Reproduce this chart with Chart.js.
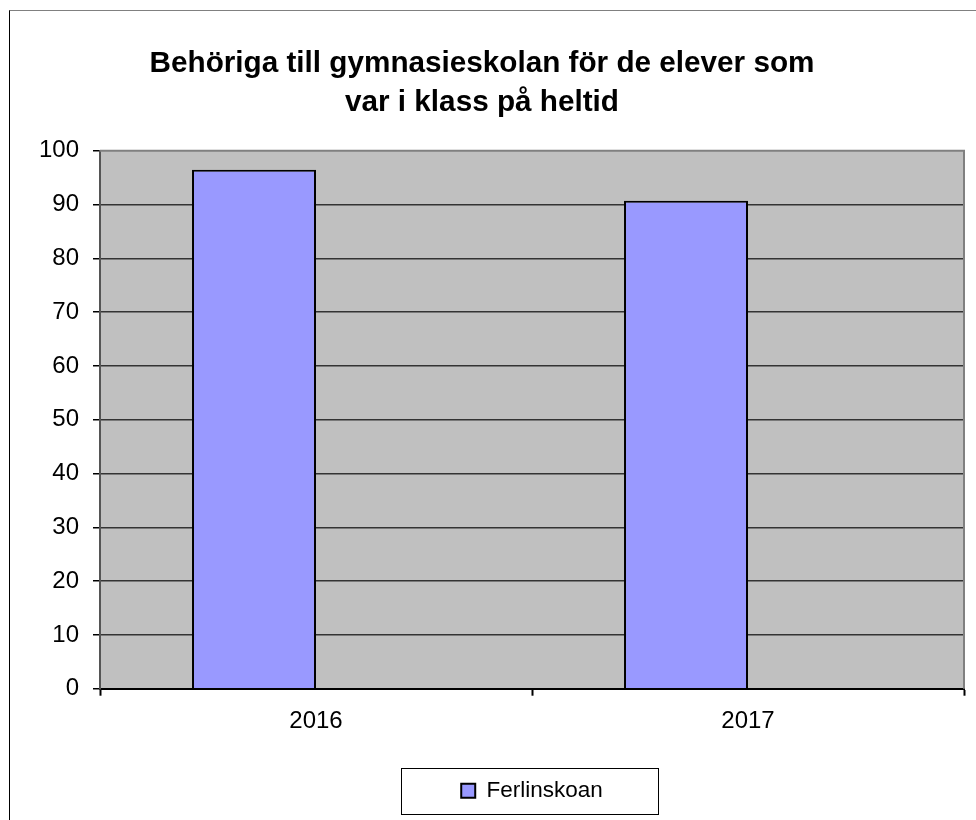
<!DOCTYPE html>
<html>
<head>
<meta charset="utf-8">
<script src="https://cdn.jsdelivr.net/npm/chart.js@4.4.1/dist/chart.umd.min.js"></script>
<style>
    html, body { margin: 0; padding: 0; background: #fff; overflow: hidden; }
    .frame {
        position: absolute; left: 9px; top: 10px; width: 1000px; height: 900px;
        border-left: 1px solid #000; border-top: 1px solid #808080;
    }
    .wrap { position: absolute; left: 0; top: 0; width: 976px; height: 820px; }
</style>
</head>
<body>
<div class="frame"></div>
<div class="wrap"><canvas id="chart" width="976" height="820"></canvas></div>
<script>
// Data
const categories = ['2016', '2017'];
const seriesName = 'Ferlinskoan';
const values = [96.5, 90.7];
// the original leaves an empty second slot in each group, so bars sit left of the label
const emptySlot = [null, null];
const yMin = 0;
const yMax = 100;
const yStep = 10;
const titleLines = ['Behöriga till gymnasieskolan för de elever som', 'var i klass på heltid'];

const fontFamily = "'Liberation Sans', Arial, sans-serif";

// gray plot background + border around the plot area
const plotArea = {
    id: 'plotArea',
    beforeDraw(chart) {
        const { ctx, chartArea: a } = chart;
        ctx.save();
        ctx.fillStyle = '#C0C0C0';
        ctx.fillRect(a.left, a.top, a.right - a.left, a.bottom - a.top);
        ctx.restore();
    },
    afterDatasetsDraw(chart) {
        const { ctx, chartArea: a } = chart;
        ctx.save();
        ctx.strokeStyle = '#808080';
        ctx.lineWidth = 2;
        ctx.beginPath();
        ctx.moveTo(a.left, a.top);
        ctx.lineTo(a.right, a.top);
        ctx.lineTo(a.right, a.bottom);
        ctx.stroke();
        ctx.restore();
    }
};

// frame around the legend
const legendFrame = {
    id: 'legendFrame',
    afterDraw(chart) {
        const hb = chart.legend && chart.legend.legendHitBoxes && chart.legend.legendHitBoxes[0];
        if (!hb) return;
        const { ctx } = chart;
        const cy = hb.top + hb.height / 2;
        const left = Math.round(hb.left - 60) + 0.5;
        const right = Math.round(hb.left + hb.width + 55) + 0.5;
        const top = Math.round(cy - 23) + 0.5;
        const bottom = Math.round(cy + 23) + 0.5;
        ctx.save();
        ctx.strokeStyle = '#000';
        ctx.lineWidth = 1;
        ctx.strokeRect(left, top, right - left, bottom - top);
        ctx.restore();
    }
};

const ctx = document.getElementById('chart').getContext('2d');
new Chart(ctx, {
    type: 'bar',
    data: {
        labels: categories,
        datasets: [
            {
                label: seriesName,
                data: values,
                backgroundColor: '#9999FF',
                borderColor: '#000',
                borderWidth: 2,
                barPercentage: 1,
                categoryPercentage: 0.574
            },
            {
                label: '',
                data: emptySlot,
                barPercentage: 1,
                categoryPercentage: 0.574
            }
        ]
    },
    options: {
        responsive: false,
        animation: false,
        layout: {
            padding: { left: 0, right: 12, top: 0, bottom: 8 }
        },
        scales: {
            x: {
                offset: true,
                afterFit(scale) { scale.height += 13; },
                grid: {
                    offset: true,
                    drawOnChartArea: false,
                    tickLength: 7,
                    tickColor: '#000',
                    tickWidth: 2
                },
                border: { color: '#000', width: 2 },
                ticks: {
                    color: '#000',
                    padding: 11,
                    font: { family: fontFamily, size: 24 }
                }
            },
            y: {
                min: yMin,
                max: yMax,
                afterFit(scale) { scale.width = 100; },
                grid: {
                    color: ctx => ctx.tick && ctx.tick.value === yMax ? 'rgba(0,0,0,0)' : '#333',
                    lineWidth: 1.5,
                    tickLength: 7,
                    tickColor: '#000',
                    tickWidth: 1.5
                },
                border: { color: '#555', width: 2 },
                ticks: {
                    stepSize: yStep,
                    color: '#000',
                    padding: 14,
                    font: { family: fontFamily, size: 24 }
                }
            }
        },
        plugins: {
            title: {
                display: true,
                text: titleLines,
                color: '#000',
                font: { family: fontFamily, size: 29.7, weight: 'bold', lineHeight: 1.31 },
                padding: { top: 44, bottom: 29 }
            },
            legend: {
                display: true,
                position: 'bottom',
                fullSize: false,
                labels: {
                    color: '#000',
                    boxWidth: 14,
                    boxHeight: 14,
                    padding: 20,
                    font: { family: fontFamily, size: 22.5 },
                    filter: item => item.datasetIndex === 0
                }
            },
            tooltip: { enabled: false }
        }
    },
    plugins: [plotArea, legendFrame]
});
</script>
</body>
</html>
